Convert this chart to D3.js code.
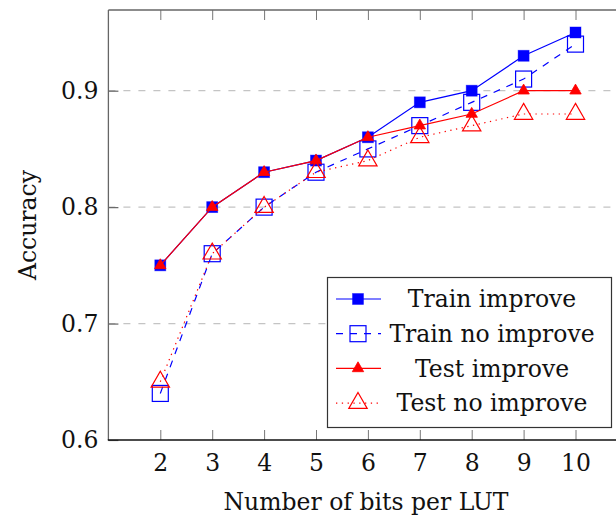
<!DOCTYPE html>
<html>
<head>
<meta charset="utf-8">
<script src="https://cdn.jsdelivr.net/npm/d3@7"></script>
<style>
  body { margin: 0; background: #fff; }
  text { font-family: "DejaVu Serif", serif; fill: #111; }
</style>
</head>
<body>
<svg id="chart" width="616" height="519"></svg>
<script>
// Accuracy vs. LUT width, with and without the improvement step
const bits = [2, 3, 4, 5, 6, 7, 8, 9, 10];
const trainImprove   = [0.75, 0.80, 0.83, 0.84, 0.86, 0.89, 0.90, 0.93, 0.95];
const trainNoImprove = [0.64, 0.76, 0.80, 0.83, 0.85, 0.87, 0.89, 0.91, 0.94];
const testImprove    = [0.75, 0.80, 0.83, 0.84, 0.86, 0.87, 0.88, 0.90, 0.90];
const testNoImprove  = [0.65, 0.76, 0.80, 0.83, 0.84, 0.86, 0.87, 0.88, 0.88];
const yTicks = [0.6, 0.7, 0.8, 0.9];
const gridTicks = [0.7, 0.8, 0.9];
const seriesNames = ["Train improve", "Train no improve", "Test improve", "Test no improve"];

const svg = d3.select("#chart");
const W = 616, H = 519;
const plot = { left: 108.4, right: 627.4, top: 10, bottom: 440 };
const FONT = 23.5;

const x = d3.scaleLinear().domain([1, 11]).range([plot.left, plot.right]);
const y = d3.scaleLinear().domain([0.6, 0.9]).range([plot.bottom, 90.7]);

const series = [
  { name: seriesNames[0], values: trainImprove,   color: "#0000ff", dash: null,   mark: "squareFilled" },
  { name: seriesNames[1], values: trainNoImprove, color: "#0000ff", dash: "7,7",  mark: "squareOpen" },
  { name: seriesNames[2], values: testImprove,    color: "#ff0000", dash: null,   mark: "triFilled" },
  { name: seriesNames[3], values: testNoImprove,  color: "#ff0000", dash: "1.3,4.5", mark: "triOpen" }
];

// clip everything drawn inside the axis box
svg.append("defs").append("clipPath").attr("id", "plotClip")
  .append("rect")
  .attr("x", plot.left).attr("y", plot.top)
  .attr("width", plot.right - plot.left).attr("height", plot.bottom - plot.top);

// horizontal dashed grid
svg.append("g")
  .selectAll("line").data(gridTicks).join("line")
  .attr("x1", plot.left).attr("x2", W)
  .attr("y1", d => y(d)).attr("y2", d => y(d))
  .attr("stroke", "#c4c4c4").attr("stroke-width", 1.3)
  .attr("stroke-dasharray", "7,8");

// bottom axis with inward ticks
const xAxis = d3.axisBottom(x).tickValues(bits).tickFormat(d3.format("d"))
  .tickSizeInner(-10).tickSizeOuter(0).tickPadding(14);
const gx = svg.append("g").attr("transform", `translate(0,${plot.bottom})`).call(xAxis);
gx.select(".domain").remove();
gx.selectAll(".tick line").attr("stroke", "#777").attr("stroke-width", 1);
gx.selectAll(".tick text").attr("font-size", FONT).attr("font-family", "DejaVu Serif").attr("fill", "#111");

// mirrored ticks along the top edge
const xTop = d3.axisTop(x).tickValues(bits).tickFormat("")
  .tickSizeInner(-10).tickSizeOuter(0);
const gxt = svg.append("g").attr("transform", `translate(0,${plot.top})`).call(xTop);
gxt.select(".domain").remove();
gxt.selectAll(".tick line").attr("stroke", "#777").attr("stroke-width", 1);

// left axis
const yAxis = d3.axisLeft(y).tickValues(yTicks).tickFormat(d3.format(".1f"))
  .tickSizeInner(-10).tickSizeOuter(0).tickPadding(10);
const gy = svg.append("g").attr("transform", `translate(${plot.left},0)`).call(yAxis);
gy.select(".domain").remove();
gy.selectAll(".tick line").attr("stroke", "#666").attr("stroke-width", 1.2);
gy.selectAll(".tick text").attr("font-size", FONT).attr("font-family", "DejaVu Serif").attr("fill", "#111");

// frame
svg.append("line").attr("x1", plot.left).attr("x2", W).attr("y1", plot.top).attr("y2", plot.top)
  .attr("stroke", "#666").attr("stroke-width", 1.3);
svg.append("line").attr("x1", plot.left).attr("x2", plot.left).attr("y1", plot.top).attr("y2", plot.bottom)
  .attr("stroke", "#666").attr("stroke-width", 1.3);
svg.append("line").attr("x1", plot.left - 0.6).attr("x2", W).attr("y1", plot.bottom).attr("y2", plot.bottom)
  .attr("stroke", "#111").attr("stroke-width", 1.3);

// marker shapes, centred at the origin
function drawMark(sel, kind, color) {
  if (kind === "squareFilled") {
    sel.append("rect").attr("x", -5.5).attr("y", -5.5).attr("width", 11).attr("height", 11)
      .attr("fill", color).attr("stroke", color).attr("stroke-opacity", 0.5).attr("stroke-width", 0.8);
  } else if (kind === "squareOpen") {
    sel.append("rect").attr("x", -8).attr("y", -8).attr("width", 16).attr("height", 16)
      .attr("fill", "none").attr("stroke", color).attr("stroke-width", 1.2);
  } else if (kind === "triFilled") {
    const r = 6.6;
    sel.append("path").attr("d", `M0,${-r}L${0.866 * r},${0.5 * r}L${-0.866 * r},${0.5 * r}Z`)
      .attr("fill", color).attr("stroke", color).attr("stroke-width", 0.8);
  } else {
    const r = 10.6;
    sel.append("path").attr("d", `M0,${-r}L${0.866 * r},${0.5 * r}L${-0.866 * r},${0.5 * r}Z`)
      .attr("fill", "none").attr("stroke", color).attr("stroke-width", 1.2);
  }
}

const gPlot = svg.append("g").attr("clip-path", "url(#plotClip)");
const line = d3.line().x((d, i) => x(bits[i])).y(d => y(d));

series.forEach(s => {
  gPlot.append("path").datum(s.values)
    .attr("d", line)
    .attr("fill", "none").attr("stroke", s.color).attr("stroke-width", 1.2)
    .attr("stroke-dasharray", s.dash);
  gPlot.append("g").selectAll("g").data(s.values).join("g")
    .attr("transform", (d, i) => `translate(${x(bits[i])},${y(d)})`)
    .each(function () { drawMark(d3.select(this), s.mark, s.color); });
});

// axis titles
svg.append("text").attr("x", 366).attr("y", 510)
  .attr("text-anchor", "middle").attr("font-size", FONT).text("Number of bits per LUT");
svg.append("text").attr("transform", "translate(36,225) rotate(-90)")
  .attr("text-anchor", "middle").attr("font-size", FONT).text("Accuracy");

// legend
const legend = { x: 327, y: 277, w: 284, h: 150 };
const gl = svg.append("g");
gl.append("rect").attr("x", legend.x + 0.5).attr("y", legend.y + 0.5)
  .attr("width", legend.w).attr("height", legend.h)
  .attr("fill", "#fff").attr("stroke", "#333").attr("stroke-width", 1.2);
const rowY = i => legend.y + 22 + i * 34.7;
series.forEach((s, i) => {
  const row = gl.append("g").attr("transform", `translate(0,${rowY(i)})`);
  row.append("line").attr("x1", legend.x + 9).attr("x2", legend.x + 54)
    .attr("y1", 0).attr("y2", 0)
    .attr("stroke", s.color).attr("stroke-width", 1.2).attr("stroke-dasharray", s.dash);
  const m = row.append("g").attr("transform", `translate(${legend.x + 31},0)`);
  drawMark(m, s.mark, s.color);
  row.append("text").attr("x", 492).attr("y", 0).attr("dy", "0.35em")
    .attr("text-anchor", "middle").attr("font-size", FONT).text(s.name);
});
</script>
</body>
</html>
